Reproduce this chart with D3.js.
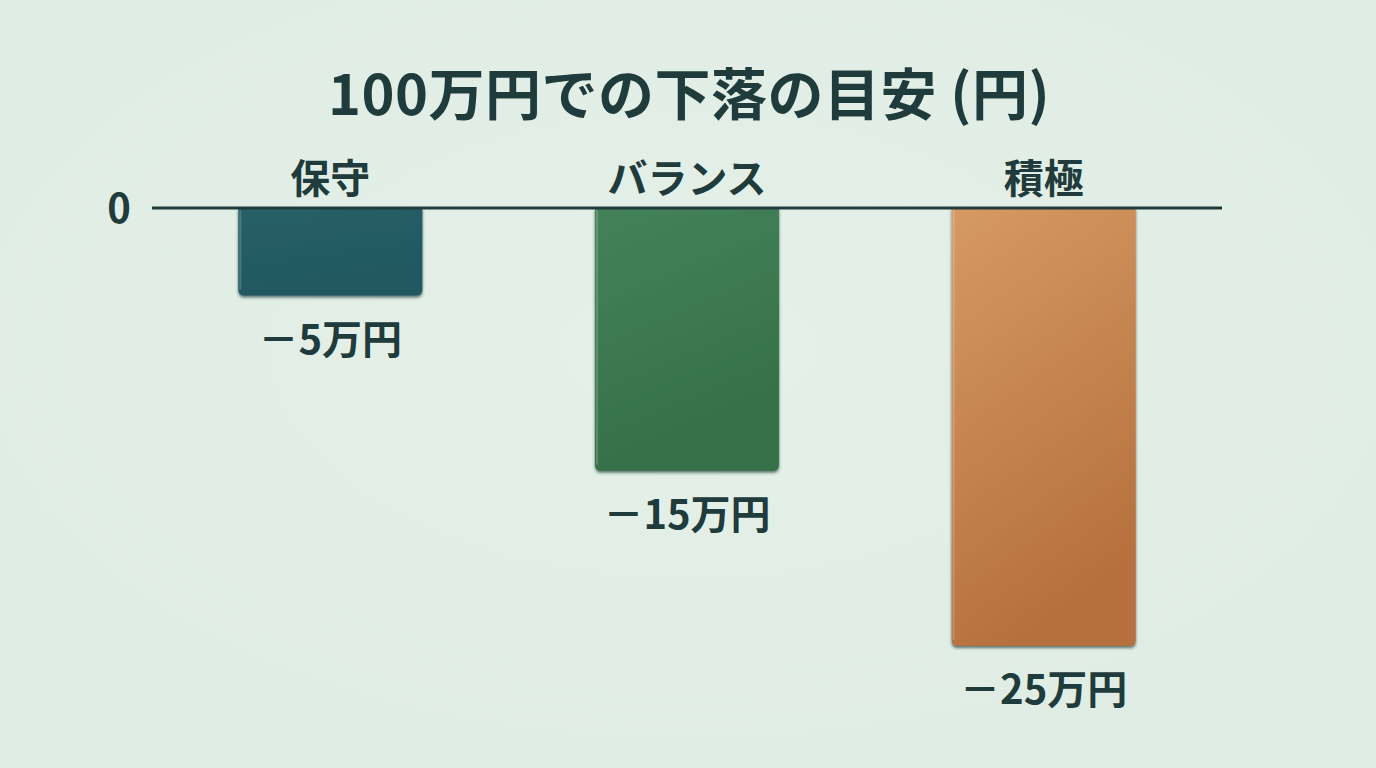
<!DOCTYPE html>
<html lang="ja">
<head>
<meta charset="UTF-8">
<title>100万円での下落の目安</title>
<script src="https://d3js.org/d3.v7.min.js"></script>
<style>
  html, body { margin: 0; padding: 0; background: #e3efe6; }
  svg { display: block; }
  text { font-family: "Noto Sans CJK JP", "Noto Sans", sans-serif; font-weight: 700; fill: #1f3b3c; }
</style>
</head>
<body>
<svg></svg>
<script>
  const categories = ["保守", "バランス", "積極"];
  const values = [-5, -15, -25];
  const valueLabels = ["－5万円", "－15万円", "－25万円"];
  const barColors = [["#275f67", "#225860"], ["#44825a", "#356f48"], ["#d69a63", "#b6703d"]];

  const width = 1376, height = 768;
  const svg = d3.select("svg").attr("width", width).attr("height", height);

  const defs = svg.append("defs");
  const bg = defs.append("radialGradient").attr("id", "bg").attr("cx", "50%").attr("cy", "45%").attr("r", "70%");
  bg.append("stop").attr("offset", "0%").attr("stop-color", "#e5f1e8");
  bg.append("stop").attr("offset", "100%").attr("stop-color", "#dfece3");

  barColors.forEach((c, i) => {
    const g = defs.append("linearGradient").attr("id", "bar" + i)
      .attr("x1", 0).attr("y1", 0).attr("x2", 0.3).attr("y2", 1);
    g.append("stop").attr("offset", "0%").attr("stop-color", c[0]);
    g.append("stop").attr("offset", "100%").attr("stop-color", c[1]);
  });

  defs.append("filter").attr("id", "shadow").attr("x", "-10%").attr("y", "-10%").attr("width", "120%").attr("height", "130%")
    .append("feDropShadow").attr("dx", 0).attr("dy", 2).attr("stdDeviation", 1.5)
    .attr("flood-color", "#1f3b3c").attr("flood-opacity", 0.7);

  svg.append("rect").attr("width", width).attr("height", height).attr("fill", "url(#bg)");

  const x = d3.scaleBand().domain(categories).range([152, 1222]).paddingInner(0.484).paddingOuter(0.242);
  const y = d3.scaleLinear().domain([-25, 0]).range([646, 208]);

  // title
  svg.append("text")
    .attr("x", 689).attr("y", 115)
    .attr("text-anchor", "middle")
    .style("font-size", "56px")
    .style("letter-spacing", "0.5px")
    .text("100万円での下落の目安 (円)");

  // bars (rounded bottom corners)
  const r = 6;
  const barPath = (d, i) => {
    const x0 = x(categories[i]), x1 = x0 + x.bandwidth();
    const y0 = y(0), y1 = y(d);
    return `M${x0},${y0}H${x1}V${y1 - r}Q${x1},${y1} ${x1 - r},${y1}H${x0 + r}Q${x0},${y1} ${x0},${y1 - r}Z`;
  };

  svg.append("g").selectAll("path")
    .data(values)
    .join("path")
    .attr("d", barPath)
    .attr("fill", (d, i) => `url(#bar${i})`)
    .attr("filter", "url(#shadow)");

  // left edge highlight
  svg.append("g").selectAll("line")
    .data(values)
    .join("line")
    .attr("x1", (d, i) => x(categories[i]) + 2)
    .attr("x2", (d, i) => x(categories[i]) + 2)
    .attr("y1", y(0) + 2)
    .attr("y2", d => y(d) - 6)
    .attr("stroke", "#ffffff").attr("stroke-opacity", 0.18).attr("stroke-width", 2);

  // zero line
  svg.append("line")
    .attr("x1", 152).attr("x2", 1222)
    .attr("y1", y(0)).attr("y2", y(0))
    .attr("stroke", "#1f3b3c").attr("stroke-width", 3);

  svg.append("text")
    .attr("x", 119).attr("y", y(0) + 15)
    .attr("text-anchor", "middle")
    .style("font-size", "40px")
    .text("0");

  // category labels
  svg.append("g").selectAll("text")
    .data(categories)
    .join("text")
    .attr("x", d => x(d) + x.bandwidth() / 2)
    .attr("y", 193)
    .attr("text-anchor", "middle")
    .style("font-size", "40px")
    .text(d => d);

  // value labels
  svg.append("g").selectAll("text")
    .data(values)
    .join("text")
    .attr("x", (d, i) => x(categories[i]) + x.bandwidth() / 2)
    .attr("y", d => y(d) + 58)
    .attr("text-anchor", "middle")
    .style("font-size", "40px")
    .text((d, i) => valueLabels[i]);
</script>
</body>
</html>
